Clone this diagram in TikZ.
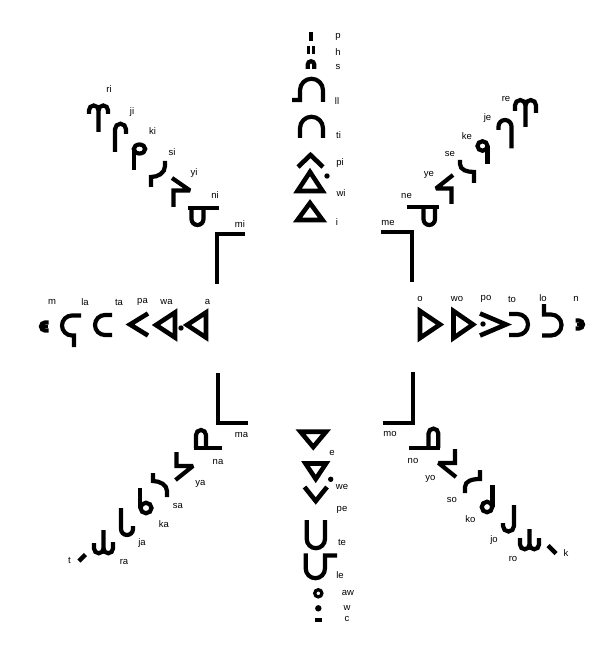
\documentclass[tikz,border=0pt]{standalone}
\usepackage{fontspec}
\newfontfamily\labfont{Liberation Sans}
\begin{document}
\begin{tikzpicture}[x=1pt,y=-1pt,
  glyph/.style={line width=4.2pt, line cap=butt, line join=miter, miter limit=3},
  tri/.style={line width=4.6pt, line join=miter, miter limit=6},
  lab/.style={font=\labfont\fontsize{9.5}{10}\selectfont, inner sep=0pt}]
\fill[white] (0,0) rectangle (600,652);
\useasboundingbox (0,0) rectangle (600,652);
% ---------------- top column
\draw[glyph,line width=3.2pt] (311,32) -- (311,41);
\draw[glyph,line width=3pt] (308.5,46) -- (308.5,54) (313.5,46) -- (313.5,54);
\draw[glyph] (307.75,69) -- (307.75,64.5) arc(180:360:3.25) -- (314.25,69);
\draw[glyph] (292,100) -- (300,100) -- (300,90.25) arc(180:360:11.5) -- (323,102);
\draw[glyph] (300,138) -- (300,128.25) arc(180:360:11.5) -- (323,138);
\draw[tri] (298,167) -- (310.5,155) -- (323,167);
\draw[tri] (297.5,191) -- (310,172) -- (322.5,191) -- cycle;
\fill (327,176) circle (2.7);
\draw[tri] (297.5,220) -- (310,203) -- (322.5,220) -- cycle;
\node[lab] (lp) at (338,37) {p};
\node[lab] (lh) at (338,52) {h};
\node[lab] (ls) at (338,67) {s};
\node[lab] (lll) at (337,101) {ll};
\node[lab] (lti) at (338.5,135) {ti};
\node[lab] (lpi) at (340,163) {pi};
\node[lab] (lwi) at (341,193) {wi};
\node[lab] (li) at (337,222) {i};
% ---------------- upper left
\draw[glyph] (89,114) -- (89,110.25) arc(180:360:4.75) -- (98.5,132);
\draw[glyph] (98.5,110.25) arc(180:360:4.75) -- (108,114);
\draw[glyph] (115,152) -- (115,129.25) arc(180:360:5.5) -- (126,134);
\draw[glyph] (133.75,170) -- (133.75,149);
\draw[glyph] (139.5,149) ellipse [x radius=5.75, y radius=4.5];
\draw[glyph] (165,161) -- (165,166) .. controls (165,173) and (158,177) .. (151,177) -- (151,187);
\draw[glyph] (172,178) -- (190,190.5) -- (173.5,190.5) -- (173.5,207);
\draw[glyph] (188,208) -- (218.5,208);
\draw[glyph] (191.5,208) -- (191.5,219) arc(180:0:6) -- (203.5,208);
\draw[glyph] (245,234) -- (217,234) -- (217,284);
\node[lab] (lri) at (109,89) {ri};
\node[lab] (lji) at (132,112) {ji};
\node[lab] (lki) at (152.5,131) {ki};
\node[lab] (lsi) at (172,152) {si};
\node[lab] (lyi) at (194,173) {yi};
\node[lab] (lni) at (215,195) {ni};
\node[lab] (lmi) at (240,224) {mi};
% ---------------- upper right
\draw[glyph] (515,111) -- (515,105.3) arc(180:360:5.25) -- (525.5,127);
\draw[glyph] (525.5,105.3) arc(180:360:5.25) -- (536,113);
\draw[glyph] (498.5,130) -- (498.5,126.5) arc(180:360:6.5) -- (511.5,148.5);
\draw[glyph] (482.5,146) ellipse [x radius=5, y radius=4.75];
\draw[glyph] (487.5,146) -- (487.5,164);
\draw[glyph] (460,160) -- (460,164) .. controls (460,170) and (467,172) .. (474,172) -- (474,183);
\draw[glyph] (453,175) -- (436,188.5) -- (451.5,188.5) -- (451.5,204);
\draw[glyph] (407,207) -- (438.5,207);
\draw[glyph] (423.5,207) -- (423.5,219.25) arc(180:0:5.75) -- (435,207);
\draw[glyph] (381,232) -- (412,232) -- (412,282);
\node[lab] (lre) at (506,99) {re};
\node[lab] (lje) at (487.5,118.5) {je};
\node[lab] (lke) at (467,136) {ke};
\node[lab] (lse) at (450,154) {se};
\node[lab] (lye) at (429,174.5) {ye};
\node[lab] (lne) at (406.5,195.5) {ne};
\node[lab] (lme) at (388,222.5) {me};
% ---------------- left row
\draw[tri] (206,312.5) -- (187,325) -- (206,337.5) -- cycle;
\fill (181,328) circle (2.7);
\draw[tri] (175,312.5) -- (156,325) -- (175,337.5) -- cycle;
\draw[tri] (148,313.5) -- (130,324.5) -- (148,335.5);
\draw[glyph] (112,315) -- (105,315) arc(270:90:10) -- (112,335);
\draw[glyph] (81,315.5) -- (72,315.5) arc(270:90:10) -- (74,335.5) -- (74,347);
\draw[glyph] (48.5,322.5) -- (45,322.5) arc(270:90:4) -- (48.5,330.5);
\draw[glyph,line width=2.2pt] (43,326.5) -- (47.5,326.5);
\node[lab] (lm) at (52,302) {m};
\node[lab] (lla) at (85,302) {la};
\node[lab] (lta) at (119,302) {ta};
\node[lab] (lpa) at (142.5,302) {pa};
\node[lab] (lwa) at (166.5,302) {wa};
\node[lab] (la) at (207.5,302) {a};
% ---------------- right row
\draw[tri] (420,311) -- (440,324.5) -- (420,338) -- cycle;
\draw[tri] (453.5,311) -- (473,324.5) -- (453.5,338) -- cycle;
\fill (483,324) circle (2.7);
\draw[tri] (480,313.5) -- (506,324.5) -- (480,335.5);
\draw[glyph] (509,314) -- (517.5,314) arc(-90:90:10.5) -- (509,335);
\draw[glyph] (544,304) -- (544,314.5) -- (551,314.5) arc(-90:90:10.5) -- (542,335.5);
\draw[glyph] (575.5,320.5) -- (579,320.5) arc(-90:90:4) -- (575.5,328.5);
\draw[glyph,line width=2.2pt] (576.5,324.5) -- (581,324.5);
\node[lab] (lo) at (420,299) {o};
\node[lab] (lwo) at (457,299) {wo};
\node[lab] (lpo) at (486,299) {po};
\node[lab] (lto) at (512,299) {to};
\node[lab] (llo) at (543,298) {lo};
\node[lab] (ln) at (576,299) {n};
% ---------------- lower left
\draw[glyph] (218,373) -- (218,423) -- (248,423);
\draw[glyph] (193.5,448) -- (222,448);
\draw[glyph] (196,448) -- (196,435) arc(180:360:5) -- (206,448);
\draw[glyph] (176.5,452) -- (176.5,466) -- (193,466) -- (175.5,480);
\draw[glyph] (153,473) -- (153,481) .. controls (160,481) and (167,485) .. (167,491) -- (167,497);
\draw[glyph] (140,488) -- (140,508);
\draw[glyph] (146,508) ellipse [x radius=5.5, y radius=5.25];
\draw[glyph] (121,508) -- (121,529) arc(180:0:6) -- (133,526);
\draw[glyph] (94,543) -- (94,548.5) arc(180:0:4.75) -- (103.5,530);
\draw[glyph] (103.5,548.5) arc(180:0:4.75) -- (113,542);
\draw[glyph,line width=4.5pt] (79,561) -- (85.5,554.5);
\node[lab] (lma) at (241.5,435) {ma};
\node[lab] (lna) at (218,461.5) {na};
\node[lab] (lya) at (200.5,484) {ya};
\node[lab] (lsa) at (178,505.5) {sa};
\node[lab] (lka) at (164,524) {ka};
\node[lab] (lja) at (142,543) {ja};
\node[lab] (lra) at (124,561.5) {ra};
\node[lab] (lt) at (69.5,560.5) {t};
% ---------------- lower right
\draw[glyph] (383,423) -- (413,423) -- (413,372);
\draw[glyph] (409,448) -- (440,448);
\draw[glyph] (428.5,448) -- (428.5,433.5) arc(180:360:4.9) -- (438.3,448);
\draw[glyph] (455,449) -- (455,463) -- (438.5,463) -- (456,477);
\draw[glyph] (465,493) -- (465,487) .. controls (465,481) and (472,479) .. (480,479) -- (480,470);
\draw[glyph] (492.5,485) -- (492.5,507);
\draw[glyph] (487,507) ellipse [x radius=5.25, y radius=5.25];
\draw[glyph] (503,523) -- (503,526) arc(180:0:5.5) -- (514,505);
\draw[glyph] (520,538) -- (520,544.5) arc(180:0:4.75) -- (529.5,529);
\draw[glyph] (529.5,544.5) arc(180:0:4.75) -- (539,538);
\draw[glyph,line width=4.5pt] (548,545.5) -- (556,553.5);
\node[lab] (lmo) at (390,433.5) {mo};
\node[lab] (lno) at (413,460.5) {no};
\node[lab] (lyo) at (430.5,478.5) {yo};
\node[lab] (lso) at (452,500) {so};
\node[lab] (lko) at (470.5,519.5) {ko};
\node[lab] (ljo) at (494,540) {jo};
\node[lab] (lro) at (513,558.5) {ro};
\node[lab] (lk) at (566,553) {k};
% ---------------- lower column
\draw[tri] (300.5,431.75) -- (326,431.75) -- (313.25,447) -- cycle;
\draw[tri] (305.5,463.5) -- (326,463.5) -- (315.75,479) -- cycle;
\fill (330.7,479.3) circle (2.7);
\draw[tri] (304.5,487) -- (315.75,501) -- (327,487);
\draw[glyph] (306.75,520) -- (306.75,539.1) arc(180:0:9.1) -- (325,520);
\draw[glyph] (305.75,553.3) -- (305.75,568.6) arc(180:0:9.6) -- (325,555.5) -- (337,555.5);
\draw[line width=3.2pt] (318.3,593.3) circle (3.6);
\fill (318.3,608.3) circle (3.2);
\draw[glyph,line width=3.2pt] (314.5,620) -- (322,620);
\node[lab] (le) at (332,453) {e};
\node[lab] (lwe) at (342,487) {we};
\node[lab] (lpe) at (342,510) {pe};
\node[lab] (lte) at (342,542) {te};
\node[lab] (lle) at (340,575) {le};
\node[lab] (law) at (348,593) {aw};
\node[lab] (lw) at (347,608) {w};
\node[lab] (lc) at (347,619) {c};
\end{tikzpicture}
\end{document}
